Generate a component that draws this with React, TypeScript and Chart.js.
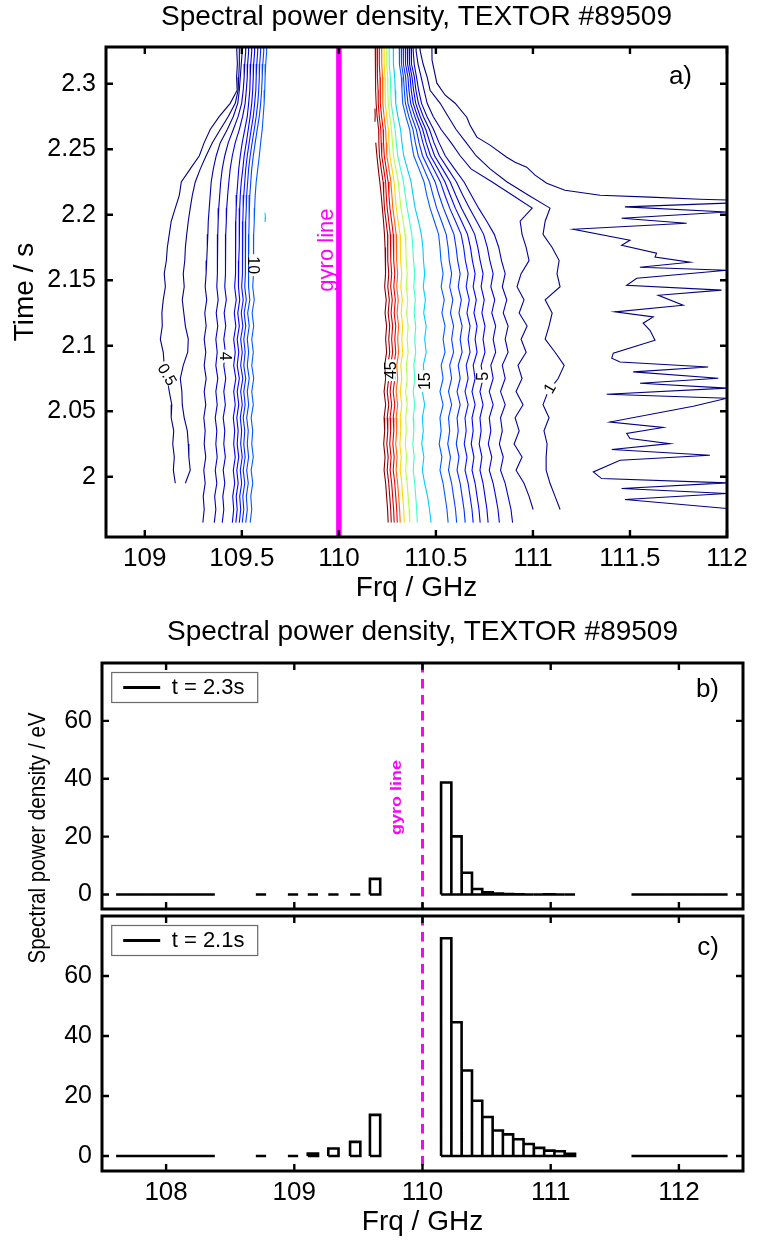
import React, { useEffect, useRef } from "react";
import { Chart, registerables } from "chart.js";

Chart.register(...registerables);

const FONT = "'Liberation Sans', Arial, Helvetica, sans-serif";
Chart.defaults.font.family = FONT;
Chart.defaults.color = "#000";

// ---------------- Panel a: contour map ----------------
const TITLE = "Spectral power density, TEXTOR #89509";
const A_X_TICKS = [109, 109.5, 110, 110.5, 111, 111.5, 112];
const A_Y_TICKS = [2, 2.05, 2.1, 2.15, 2.2, 2.25, 2.3];
const A_X_MIN = 108.8;
const A_X_MAX = 112;
const A_Y_MIN = 1.954;
const A_Y_MAX = 2.328;
const GYRO_FREQ = 110;

const CONTOUR_TIMES = [2.335, 2.325, 2.315, 2.305, 2.295, 2.285, 2.275, 2.265, 2.255, 2.245, 2.235, 2.225, 2.215, 2.205, 2.195, 2.185, 2.175, 2.165, 2.155, 2.145, 2.135, 2.125, 2.115, 2.105, 2.095, 2.085, 2.075, 2.065, 2.055, 2.045, 2.035, 2.025, 2.015, 2.005, 1.995, 1.985, 1.975, 1.965];

const LEFT_LEV05 = [109.475, 109.474, 109.477, 109.473, 109.476, 109.440, 109.384, 109.337, 109.306, 109.281, 109.234, 109.188, 109.178, 109.157, 109.136, 109.126, 109.116, 109.111, 109.100, 109.106, 109.095, 109.088, 109.090, 109.080, 109.095, 109.100, 109.116, 109.126, 109.139, 109.136, 109.149, 109.144, 109.152, 109.147, 109.157, null, null, null];
const LEFT_LEV1 = [109.484, 109.487, 109.487, 109.484, 109.481, 109.466, 109.430, 109.389, 109.348, 109.316, 109.286, 109.260, 109.245, 109.234, 109.224, 109.216, 109.209, 109.206, 109.198, 109.203, 109.193, 109.201, 109.209, 109.224, 109.221, 109.198, 109.183, 109.191, 109.193, 109.203, 109.219, 109.224, 109.227, 109.234, 109.209, null, null, null];
const LEFT_LEV2 = [109.499, 109.502, 109.497, 109.492, 109.487, 109.479, 109.456, 109.425, 109.389, 109.368, 109.353, 109.342, 109.337, 109.332, 109.327, 109.325, 109.322, 109.319, 109.316, 109.311, 109.319, 109.309, 109.316, 109.306, 109.314, 109.306, 109.316, 109.306, 109.314, 109.304, 109.311, 109.306, 109.314, 109.304, 109.311, 109.301, 109.306, 109.299];
const LEFT_LEV3 = [109.517, 109.520, 109.515, 109.512, 109.507, 109.499, 109.481, 109.456, 109.430, 109.412, 109.399, 109.391, 109.386, 109.381, 109.378, 109.376, 109.376, 109.373, 109.373, 109.371, 109.378, 109.368, 109.376, 109.366, 109.373, 109.366, 109.376, 109.366, 109.373, 109.363, 109.371, 109.366, 109.373, 109.363, 109.371, 109.360, 109.366, 109.358];
const LEFT_LEV4 = [109.533, 109.535, 109.530, 109.528, 109.523, 109.517, 109.504, 109.487, 109.466, 109.451, 109.440, 109.433, 109.427, 109.422, 109.420, 109.417, 109.417, 109.415, 109.415, 109.412, 109.420, 109.409, 109.417, 109.407, 109.415, 109.407, 109.417, 109.407, 109.415, 109.404, 109.412, 109.407, 109.415, 109.404, 109.412, 109.402, 109.407, 109.399];
const LEFT_LEV5 = [109.548, 109.551, 109.546, 109.543, 109.541, 109.535, 109.528, 109.515, 109.502, 109.492, 109.484, 109.479, 109.474, 109.471, 109.469, 109.469, 109.469, 109.466, 109.466, 109.463, 109.471, 109.461, 109.469, 109.458, 109.466, 109.458, 109.469, 109.458, 109.466, 109.456, 109.463, 109.458, 109.466, 109.456, 109.463, 109.453, 109.458, 109.451];
const LEFT_LEV6 = [109.564, 109.566, 109.561, 109.559, 109.556, 109.551, 109.543, 109.533, 109.523, 109.512, 109.505, 109.497, 109.492, 109.489, 109.487, 109.487, 109.486, 109.484, 109.484, 109.481, 109.489, 109.479, 109.487, 109.476, 109.484, 109.476, 109.487, 109.476, 109.484, 109.474, 109.481, 109.476, 109.484, 109.474, 109.481, 109.471, 109.476, 109.469];
const LEFT_LEV7 = [109.579, 109.582, 109.577, 109.574, 109.572, 109.566, 109.559, 109.548, 109.538, 109.528, 109.520, 109.515, 109.510, 109.507, 109.505, 109.505, 109.504, 109.502, 109.502, 109.499, 109.507, 109.497, 109.505, 109.494, 109.502, 109.494, 109.505, 109.494, 109.502, 109.492, 109.499, 109.494, 109.502, 109.492, 109.499, 109.489, 109.494, 109.487];
const LEFT_LEV8 = [109.595, 109.597, 109.592, 109.590, 109.587, 109.582, 109.574, 109.564, 109.553, 109.543, 109.535, 109.530, 109.525, 109.523, 109.520, 109.520, 109.519, 109.517, 109.517, 109.515, 109.523, 109.512, 109.520, 109.510, 109.517, 109.510, 109.520, 109.510, 109.517, 109.507, 109.515, 109.510, 109.517, 109.507, 109.515, 109.505, 109.510, 109.502];
const LEFT_LEV9 = [109.610, 109.613, 109.608, 109.605, 109.602, 109.597, 109.590, 109.579, 109.569, 109.559, 109.551, 109.546, 109.541, 109.538, 109.537, 109.536, 109.535, 109.535, 109.535, 109.533, 109.541, 109.530, 109.538, 109.528, 109.535, 109.528, 109.538, 109.528, 109.535, 109.525, 109.533, 109.528, 109.535, 109.525, 109.533, 109.523, 109.528, 109.520];
const LEFT_LEV10 = [109.626, 109.628, 109.623, 109.620, 109.618, 109.615, 109.610, 109.605, 109.597, 109.590, 109.582, 109.574, 109.569, 109.566, 109.564, 109.561, 109.561, 109.560, 109.559, 109.556, 109.564, 109.553, 109.561, 109.551, 109.559, 109.551, 109.561, 109.551, 109.559, 109.548, 109.556, 109.551, 109.559, 109.548, 109.556, 109.546, 109.551, 109.543];

const RIGHT_LEV55 = [null, null, null, null, null, null, null, null, 110.190, 110.196, 110.203, 110.211, 110.218, 110.224, 110.230, 110.235, 110.238, 110.240, 110.241, 110.236, 110.244, 110.238, 110.246, 110.241, 110.246, 110.236, 110.241, 110.233, 110.241, 110.233, 110.236, 110.231, 110.238, 110.233, 110.241, 110.246, 110.251, 110.254];
const RIGHT_LEV50 = [110.187, 110.187, 110.188, 110.191, 110.191, 110.192, 110.197, 110.205, 110.206, 110.209, 110.218, 110.228, 110.231, 110.235, 110.243, 110.251, 110.252, 110.252, 110.257, 110.252, 110.260, 110.254, 110.262, 110.257, 110.262, 110.252, 110.257, 110.249, 110.257, 110.249, 110.252, 110.247, 110.254, 110.249, 110.257, 110.262, 110.267, 110.270];
const RIGHT_LEV45 = [110.197, 110.197, 110.198, 110.201, 110.202, 110.203, 110.208, 110.216, 110.218, 110.221, 110.231, 110.241, 110.244, 110.249, 110.257, 110.265, 110.267, 110.268, 110.272, 110.267, 110.275, 110.269, 110.277, 110.272, 110.277, 110.267, 110.272, 110.264, 110.272, 110.264, 110.267, 110.262, 110.269, 110.264, 110.272, 110.277, 110.282, 110.285];
const RIGHT_LEV40 = [110.208, 110.208, 110.209, 110.212, 110.213, 110.214, 110.220, 110.228, 110.230, 110.234, 110.244, 110.254, 110.258, 110.263, 110.272, 110.280, 110.282, 110.283, 110.288, 110.283, 110.291, 110.285, 110.293, 110.288, 110.293, 110.283, 110.288, 110.280, 110.288, 110.280, 110.283, 110.278, 110.285, 110.280, 110.288, 110.293, 110.298, 110.301];
const RIGHT_LEV35 = [110.220, 110.221, 110.221, 110.225, 110.226, 110.227, 110.233, 110.241, 110.244, 110.247, 110.258, 110.268, 110.273, 110.278, 110.287, 110.295, 110.297, 110.298, 110.303, 110.298, 110.306, 110.300, 110.308, 110.303, 110.308, 110.298, 110.303, 110.295, 110.303, 110.295, 110.298, 110.293, 110.300, 110.295, 110.303, 110.308, 110.313, 110.316];
const RIGHT_LEV30 = [110.233, 110.233, 110.234, 110.238, 110.238, 110.240, 110.247, 110.255, 110.258, 110.263, 110.274, 110.285, 110.290, 110.296, 110.305, 110.315, 110.317, 110.319, 110.324, 110.319, 110.327, 110.321, 110.329, 110.324, 110.329, 110.319, 110.324, 110.316, 110.324, 110.316, 110.319, 110.314, 110.321, 110.316, 110.324, 110.329, 110.334, 110.337];
const RIGHT_LEV25 = [110.246, 110.246, 110.247, 110.251, 110.252, 110.255, 110.262, 110.271, 110.276, 110.281, 110.294, 110.306, 110.313, 110.320, 110.331, 110.341, 110.345, 110.347, 110.352, 110.347, 110.355, 110.349, 110.357, 110.352, 110.357, 110.347, 110.352, 110.344, 110.352, 110.344, 110.347, 110.342, 110.349, 110.344, 110.352, 110.357, 110.362, 110.365];
const RIGHT_LEV20 = [110.259, 110.259, 110.260, 110.265, 110.267, 110.270, 110.279, 110.290, 110.296, 110.303, 110.318, 110.333, 110.342, 110.352, 110.364, 110.376, 110.381, 110.385, 110.391, 110.386, 110.394, 110.388, 110.396, 110.391, 110.396, 110.386, 110.391, 110.383, 110.391, 110.383, 110.386, 110.381, 110.388, 110.383, 110.391, 110.396, 110.401, 110.404];
const RIGHT_LEV15 = [110.280, 110.280, 110.282, 110.288, 110.290, 110.293, 110.304, 110.318, 110.325, 110.334, 110.353, 110.372, 110.382, 110.393, 110.410, 110.425, 110.433, 110.436, 110.442, 110.435, 110.446, 110.437, 110.450, 110.442, 110.450, 110.435, 110.442, 110.430, 110.442, 110.430, 110.435, 110.427, 110.438, 110.430, 110.442, 110.457, 110.467, 110.475];
const RIGHT_LEV10 = [110.311, 110.311, 110.313, 110.322, 110.325, 110.329, 110.345, 110.365, 110.374, 110.386, 110.413, 110.439, 110.453, 110.470, 110.492, 110.514, 110.521, 110.526, 110.537, 110.527, 110.543, 110.531, 110.547, 110.537, 110.547, 110.527, 110.537, 110.521, 110.537, 110.521, 110.527, 110.517, 110.531, 110.521, 110.537, 110.547, 110.557, 110.563];
const RIGHT_LEV9 = [110.321, 110.321, 110.324, 110.333, 110.337, 110.343, 110.360, 110.382, 110.394, 110.409, 110.438, 110.467, 110.485, 110.504, 110.529, 110.553, 110.563, 110.569, 110.581, 110.571, 110.587, 110.575, 110.591, 110.581, 110.591, 110.571, 110.581, 110.565, 110.581, 110.565, 110.571, 110.561, 110.575, 110.565, 110.581, 110.591, 110.601, 110.607];
const RIGHT_LEV8 = [110.331, 110.331, 110.334, 110.344, 110.349, 110.356, 110.375, 110.399, 110.413, 110.431, 110.463, 110.496, 110.516, 110.539, 110.566, 110.593, 110.604, 110.612, 110.625, 110.615, 110.631, 110.619, 110.635, 110.625, 110.635, 110.615, 110.625, 110.609, 110.625, 110.609, 110.615, 110.605, 110.619, 110.609, 110.625, 110.635, 110.645, 110.651];
const RIGHT_LEV7 = [110.342, 110.342, 110.345, 110.356, 110.361, 110.370, 110.391, 110.416, 110.433, 110.453, 110.488, 110.523, 110.546, 110.571, 110.601, 110.630, 110.643, 110.652, 110.666, 110.656, 110.672, 110.660, 110.676, 110.666, 110.676, 110.656, 110.666, 110.650, 110.666, 110.650, 110.656, 110.646, 110.660, 110.650, 110.666, 110.676, 110.686, 110.692];
const RIGHT_LEV6 = [110.352, 110.352, 110.356, 110.367, 110.373, 110.383, 110.405, 110.432, 110.450, 110.472, 110.510, 110.547, 110.573, 110.600, 110.632, 110.663, 110.678, 110.688, 110.702, 110.692, 110.708, 110.696, 110.712, 110.702, 110.712, 110.692, 110.702, 110.686, 110.702, 110.686, 110.692, 110.682, 110.696, 110.686, 110.702, 110.712, 110.722, 110.728];
const RIGHT_LEV5 = [110.362, 110.362, 110.366, 110.377, 110.385, 110.396, 110.419, 110.448, 110.469, 110.493, 110.534, 110.574, 110.602, 110.632, 110.667, 110.700, 110.716, 110.728, 110.743, 110.733, 110.749, 110.737, 110.753, 110.743, 110.753, 110.733, 110.743, 110.727, 110.743, 110.727, 110.733, 110.723, 110.737, 110.727, 110.743, 110.753, 110.763, 110.769];
const RIGHT_LEV4 = [110.372, 110.372, 110.376, 110.389, 110.397, 110.410, 110.435, 110.467, 110.490, 110.518, 110.562, 110.606, 110.638, 110.673, 110.710, 110.746, 110.765, 110.778, 110.795, 110.783, 110.803, 110.788, 110.808, 110.795, 110.808, 110.783, 110.795, 110.775, 110.795, 110.775, 110.783, 110.770, 110.788, 110.775, 110.795, 110.808, 110.820, 110.827];
const RIGHT_LEV3 = [110.383, 110.383, 110.388, 110.400, 110.411, 110.426, 110.454, 110.488, 110.516, 110.548, 110.596, 110.645, 110.682, 110.720, 110.762, 110.801, 110.824, 110.838, 110.857, 110.842, 110.865, 110.847, 110.872, 110.857, 110.872, 110.842, 110.857, 110.833, 110.857, 110.833, 110.842, 110.827, 110.847, 110.833, 110.857, 110.872, 110.887, 110.895];
const RIGHT_LEV2 = [110.398, 110.398, 110.408, 110.424, 110.439, 110.455, 110.486, 110.527, 110.578, 110.625, 110.681, 110.790, 110.893, 110.996, 110.934, 110.944, 110.965, 110.980, 110.939, 110.918, 110.954, 110.929, 110.970, 110.939, 110.965, 110.923, 110.944, 110.913, 110.949, 110.908, 110.929, 110.903, 110.944, 110.913, 110.954, 110.980, 111.001, null];
const RIGHT_LEV1 = [110.414, 110.419, 110.434, 110.455, 110.470, 110.522, 110.563, 110.604, 110.656, 110.707, 110.779, 110.867, 110.975, 111.088, 111.063, 111.052, 111.099, 111.135, 111.124, 111.140, 111.063, 111.099, 111.083, 111.063, 111.114, 111.161, 111.130, 111.078, 111.052, 111.083, 111.057, 111.073, 111.068, 111.068, 111.088, 111.114, 111.140, null];

// 0.5 contour on the high-frequency side: upper sweep, then the noisy part
const SWEEP_FREQ = [110.479, 110.480, 110.505, 110.548, 110.599, 110.659, 110.676, 110.711, 110.779, 110.865, 110.908, 110.968, 111.011, 111.071, 111.165, 111.346, 111.603, 111.861, 112.015];
const SWEEP_TIME = [2.333, 2.318, 2.3004, 2.2912, 2.2851, 2.2744, 2.2683, 2.2592, 2.2531, 2.2439, 2.2401, 2.2363, 2.2302, 2.224, 2.2187, 2.2149, 2.2134, 2.2118, 2.2111];
const NOISE_FREQ = [112.0, 111.474, 112.0, 111.457, 111.792, 111.208, 111.5, 111.457, 111.637, 111.629, 111.809, 111.551, 112.0, 111.535, 111.483, 111.972, 111.646, 111.774, 111.423, 111.62, 111.568, 111.603, 111.629, 111.414, 111.406, 111.449, 111.903, 111.517, 111.955, 111.552, 112.0, 111.38, 112.0, 111.826, 111.397, 111.671, 111.483, 111.5, 111.706, 111.406, 111.912, 111.449, 111.311, 111.354, 112.0, 111.457, 112.0, 111.474, 112.0];
const NOISE_TIME = [2.2088, 2.206, 2.2021, 2.1973, 2.1935, 2.1889, 2.1805, 2.1767, 2.1706, 2.1676, 2.1637, 2.1599, 2.1576, 2.1515, 2.1462, 2.1424, 2.1385, 2.1309, 2.1258, 2.122, 2.1172, 2.1118, 2.1042, 2.0943, 2.0905, 2.0876, 2.0838, 2.08, 2.0752, 2.0714, 2.0676, 2.063, 2.0599, 2.0538, 2.0418, 2.0376, 2.033, 2.0292, 2.0253, 2.0208, 2.0164, 2.0126, 2.0037, 1.9986, 1.9953, 1.991, 1.9872, 1.9826, 1.9757];
const ISLAND15_FREQ = [109.619, 109.622, 109.62];
const ISLAND15_TIME = [2.2015, 2.198, 2.1945];
const ISLAND55_FREQ = [110.186, 110.187, 110.186];
const ISLAND55_TIME = [2.281, 2.276, 2.271];

const CLABEL_TEXT = ["0.5", "4", "10", "45", "15", "5", "1"];
const CLABEL_FREQ = [109.116, 109.415, 109.56, 110.267, 110.442, 110.743, 111.085];
const CLABEL_TIME = [2.078, 2.092, 2.1615, 2.0813, 2.0729, 2.0767, 2.0676];
const CLABEL_ROT = [60, 90, 90, -90, -90, -90, -60];

const LEVEL_COLOR: Record<string, string> = {
  "0.5": "#000080", "1": "#00008b", "2": "#0000a2", "3": "#0000b9", "4": "#0000d0",
  "5": "#0000e7", "6": "#0000fe", "7": "#0015ff", "8": "#002cff", "9": "#0043ff",
  "10": "#005aff", "15": "#00cdff", "20": "#40ffbf", "25": "#b3ff4d", "30": "#ffd900",
  "35": "#ff6600", "40": "#f20000", "45": "#d00000", "50": "#a80000", "55": "#800000",
};

const CONTOURS: [number, (number | null)[]][] = [
  [0.5, LEFT_LEV05], [1, LEFT_LEV1], [2, LEFT_LEV2], [3, LEFT_LEV3], [4, LEFT_LEV4],
  [5, LEFT_LEV5], [6, LEFT_LEV6], [7, LEFT_LEV7], [8, LEFT_LEV8], [9, LEFT_LEV9], [10, LEFT_LEV10],
  [55, RIGHT_LEV55], [50, RIGHT_LEV50], [45, RIGHT_LEV45], [40, RIGHT_LEV40], [35, RIGHT_LEV35],
  [30, RIGHT_LEV30], [25, RIGHT_LEV25], [20, RIGHT_LEV20], [15, RIGHT_LEV15], [10, RIGHT_LEV10],
  [9, RIGHT_LEV9], [8, RIGHT_LEV8], [7, RIGHT_LEV7], [6, RIGHT_LEV6], [5, RIGHT_LEV5],
  [4, RIGHT_LEV4], [3, RIGHT_LEV3], [2, RIGHT_LEV2], [1, RIGHT_LEV1],
];

// ---------------- Panels b and c: spectra ----------------
const BC_X_TICKS = [108, 109, 110, 111, 112];
const BC_Y_TICKS = [0, 20, 40, 60];
const BC_X_MIN = 107.5;
const BC_X_MAX = 112.5;
const BC_Y_MIN = -5;
const BC_Y_MAX = 80;
const CHANNEL_WIDTH = 0.08;
const CHANNEL_FREQ = [107.65, 107.73, 107.8, 107.88, 107.96, 108.03, 108.11, 108.19, 108.26, 108.34, 108.74, 108.99, 109.145, 109.305, 109.475, 109.63, 110.185, 110.265, 110.346, 110.426, 110.507, 110.587, 110.667, 110.748, 110.828, 110.909, 110.989, 111.069, 111.15, 111.67, 111.75, 111.82, 111.9, 111.98, 112.05, 112.13, 112.21, 112.28, 112.34];
const SPD_T23 = [0, 0, 0, 0, 0, 0, 0, 0, 0, 0, 0, 0, 0, 0, 0, 5.4, 38.7, 20.1, 7.5, 1.9, 0.8, 0.3, 0.2, 0.1, 0, 0, 0.1, 0, 0, 0, 0, 0, 0, 0, 0, 0, 0, 0, 0];
const SPD_T21 = [0, 0, 0, 0, 0, 0, 0, 0, 0, 0, 0, 0, 0.8, 2.5, 4.7, 13.7, 72.6, 44.6, 28.5, 18.4, 13.0, 8.5, 7.2, 5.6, 4.0, 2.7, 1.8, 1.6, 0.7, 0, 0, 0, 0, 0, 0, 0, 0, 0, 0];
const LABEL_B = "t = 2.3s";
const LABEL_C = "t = 2.1s";

// ---------------- helpers ----------------
function channelOutline(freqs: number[], vals: number[], w: number) {
  const pts: { x: number; y: number | null }[] = [];
  for (let i = 0; i < freqs.length; i++) {
    const l = freqs[i] - w / 2;
    const r = freqs[i] + w / 2;
    const v = vals[i];
    pts.push({ x: l, y: 0 }, { x: l, y: v }, { x: r, y: v }, { x: r, y: 0 }, { x: l, y: 0 }, { x: freqs[i], y: null });
  }
  return pts;
}

function framePlugin(tickLen: number) {
  return {
    id: "frameTicks",
    afterDatasetsDraw(chart: any) {
      const { ctx, chartArea: a } = chart;
      const xs = chart.scales.x;
      const ys = chart.scales.y;
      ctx.save();
      ctx.strokeStyle = "#000";
      ctx.lineWidth = 2.4;
      ctx.beginPath();
      xs.ticks.forEach((t: any) => {
        const p = xs.getPixelForValue(t.value);
        ctx.moveTo(p, a.bottom);
        ctx.lineTo(p, a.bottom - tickLen);
        ctx.moveTo(p, a.top);
        ctx.lineTo(p, a.top + tickLen);
      });
      ys.ticks.forEach((t: any) => {
        const p = ys.getPixelForValue(t.value);
        ctx.moveTo(a.left, p);
        ctx.lineTo(a.left + tickLen, p);
        ctx.moveTo(a.right, p);
        ctx.lineTo(a.right - tickLen, p);
      });
      ctx.stroke();
      ctx.lineWidth = 3;
      ctx.strokeRect(a.left, a.top, a.right - a.left, a.bottom - a.top);
      ctx.restore();
    },
  };
}

function axisX(min: number, max: number, ticks: number[], height: number, showLabels: boolean, title?: string, titleBottom = 0) {
  return {
    type: "linear" as const,
    min,
    max,
    afterBuildTicks: (s: any) => {
      s.ticks = ticks.map((v) => ({ value: v }));
    },
    afterFit: (s: any) => {
      s.height = height;
    },
    grid: { display: false, drawTicks: false },
    border: { display: false },
    ticks: {
      display: showLabels,
      autoSkip: false,
      maxRotation: 0,
      padding: 6.4,
      font: { size: 26, family: FONT },
      color: "#000",
      callback: (v: any) => String(v),
    },
    title: title
      ? { display: true, text: title, font: { size: 28, family: FONT }, color: "#000", padding: { top: 0, bottom: titleBottom } }
      : { display: false },
  };
}

function axisY(min: number, max: number, ticks: number[], width: number, title?: string) {
  return {
    type: "linear" as const,
    min,
    max,
    afterBuildTicks: (s: any) => {
      s.ticks = ticks.map((v) => ({ value: v }));
    },
    afterFit: (s: any) => {
      s.width = width;
    },
    grid: { display: false, drawTicks: false },
    border: { display: false },
    ticks: {
      autoSkip: false,
      padding: 10,
      font: { size: 25, family: FONT },
      color: "#000",
      callback: (v: any) => String(v),
    },
    title: title
      ? { display: true, text: title, font: { size: 28, family: FONT }, color: "#000", padding: { top: 8, bottom: 0 } }
      : { display: false },
  };
}

const baseOptions = {
  animation: false as const,
  responsive: false,
  devicePixelRatio: 1,
  events: [] as any[],
};

function makeChartA(canvas: HTMLCanvasElement) {
  const datasets: any[] = CONTOURS.map(([lev, freqs]) => ({
    data: CONTOUR_TIMES.map((t, i) => ({ x: freqs[i], y: t })).filter((p) => p.x !== null),
    showLine: true,
    borderColor: LEVEL_COLOR[String(lev)],
    borderWidth: 1.1,
    pointRadius: 0,
    tension: 0,
  }));
  const extra = (fr: number[], tm: number[], lev: number) => ({
    data: fr.map((f, i) => ({ x: f, y: tm[i] })),
    showLine: true,
    borderColor: LEVEL_COLOR[String(lev)],
    borderWidth: 1.1,
    pointRadius: 0,
    tension: 0,
  });
  datasets.push(extra(SWEEP_FREQ, SWEEP_TIME, 0.5));
  datasets.push(extra(NOISE_FREQ, NOISE_TIME, 0.5));
  datasets.push(extra(ISLAND15_FREQ, ISLAND15_TIME, 15));
  datasets.push(extra(ISLAND55_FREQ, ISLAND55_TIME, 55));
  datasets.push({
    data: [{ x: GYRO_FREQ, y: A_Y_MAX }, { x: GYRO_FREQ, y: A_Y_MIN }],
    showLine: true,
    borderColor: "#ff00ff",
    borderWidth: 5.5,
    pointRadius: 0,
  });

  const extrasA = {
    id: "extrasA",
    afterDatasetsDraw(chart: any) {
      const { ctx, chartArea: a } = chart;
      const x = chart.scales.x;
      const y = chart.scales.y;
      ctx.save();
      ctx.font = `16px ${FONT}`;
      ctx.textAlign = "center";
      ctx.textBaseline = "middle";
      CLABEL_TEXT.forEach((txt, i) => {
        const px = x.getPixelForValue(CLABEL_FREQ[i]);
        const py = y.getPixelForValue(CLABEL_TIME[i]);
        ctx.save();
        ctx.translate(px, py);
        ctx.rotate((CLABEL_ROT[i] * Math.PI) / 180);
        const w = ctx.measureText(txt).width;
        ctx.fillStyle = "#fff";
        ctx.fillRect(-w / 2 - 2, -4.5, w + 4, 9);
        ctx.fillStyle = "#000";
        ctx.fillText(txt, 0, 1);
        ctx.restore();
      });
      // gyro line text
      ctx.save();
      ctx.translate(x.getPixelForValue(GYRO_FREQ) - 11.5, y.getPixelForValue(2.173));
      ctx.rotate(-Math.PI / 2);
      ctx.font = `22px ${FONT}`;
      ctx.fillStyle = "#ff00ff";
      ctx.fillText("gyro line", 0, 0);
      ctx.restore();
      // panel letter
      ctx.font = `26px ${FONT}`;
      ctx.textAlign = "right";
      ctx.fillStyle = "#000";
      ctx.fillText("a)", a.right - 35, a.top + 30);
      ctx.restore();
    },
  };

  return new Chart(canvas, {
    type: "scatter",
    data: { datasets },
    options: {
      ...baseOptions,
      layout: { padding: { left: 0, right: 30, top: 0, bottom: 0 } },
      plugins: {
        legend: { display: false },
        tooltip: { enabled: false },
        title: {
          display: true,
          fullSize: false,
          text: TITLE,
          color: "#000",
          font: { size: 28, family: FONT, weight: "normal" },
          padding: { top: 0, bottom: 13.4 },
        },
      },
      scales: {
        x: axisX(A_X_MIN, A_X_MAX, A_X_TICKS, 68, true, "Frq / GHz", 0),
        y: axisY(A_Y_MIN, A_Y_MAX, A_Y_TICKS, 106, "Time / s"),
      },
    } as any,
    plugins: [framePlugin(7), extrasA] as any,
  });
}

function legendAndLetter(label: string, letter: string, letterDy: number, gyroText: boolean, sharedTitle: boolean) {
  return {
    id: "extrasBC",
    afterDatasetsDraw(chart: any) {
      const { ctx, chartArea: a } = chart;
      const x = chart.scales.x;
      const y = chart.scales.y;
      ctx.save();
      const bx = a.left + 9.7;
      const by = a.top + 9.5;
      ctx.fillStyle = "#fff";
      ctx.fillRect(bx, by, 146, 30);
      ctx.strokeStyle = "#6a6a6a";
      ctx.lineWidth = 1.2;
      ctx.strokeRect(bx, by, 146, 30);
      ctx.strokeStyle = "#000";
      ctx.lineWidth = 3;
      ctx.beginPath();
      ctx.moveTo(bx + 11.5, by + 15);
      ctx.lineTo(bx + 48.5, by + 15);
      ctx.stroke();
      ctx.fillStyle = "#000";
      ctx.font = `22px ${FONT}`;
      ctx.textAlign = "left";
      ctx.textBaseline = "middle";
      ctx.fillText(label, bx + 60, by + 15.5);
      ctx.font = `26px ${FONT}`;
      ctx.textAlign = "right";
      ctx.fillText(letter, a.right - 24, a.top + letterDy);
      if (gyroText) {
        ctx.save();
        ctx.translate(x.getPixelForValue(GYRO_FREQ) - 25, y.getPixelForValue(33.5));
        ctx.rotate(-Math.PI / 2);
        ctx.scale(1, 0.78);
        ctx.font = `bold 18px ${FONT}`;
        ctx.textAlign = "center";
        ctx.fillStyle = "#ff00ff";
        ctx.fillText("gyro line", 0, 0);
        ctx.restore();
      }
      if (sharedTitle) {
        ctx.save();
        ctx.translate(38, 233);
        ctx.rotate(-Math.PI / 2);
        ctx.scale(0.86, 1);
        ctx.font = `24px ${FONT}`;
        ctx.textAlign = "center";
        ctx.fillStyle = "#000";
        ctx.fillText("Spectral power density / eV", 0, 0);
        ctx.restore();
      }
      ctx.restore();
    },
  };
}

function spectrumDatasets(vals: number[], label: string) {
  return [
    {
      label,
      data: channelOutline(CHANNEL_FREQ, vals, CHANNEL_WIDTH),
      showLine: true,
      spanGaps: false,
      borderColor: "#000",
      borderWidth: 2.6,
      borderJoinStyle: "miter",
      borderCapStyle: "butt",
      pointRadius: 0,
      tension: 0,
    },
    {
      data: [{ x: GYRO_FREQ, y: BC_Y_MAX }, { x: GYRO_FREQ, y: BC_Y_MIN }],
      showLine: true,
      borderColor: "#ff00ff",
      borderWidth: 3,
      borderDash: [9.5, 6.5],
      pointRadius: 0,
    },
  ];
}

function makeChartB(canvas: HTMLCanvasElement) {
  return new Chart(canvas, {
    type: "scatter",
    data: { datasets: spectrumDatasets(SPD_T23, LABEL_B) as any },
    options: {
      ...baseOptions,
      layout: { padding: { left: 0, right: 14, top: 0, bottom: 0 } },
      plugins: {
        legend: { display: false },
        tooltip: { enabled: false },
        title: {
          display: true,
          fullSize: false,
          text: TITLE,
          color: "#000",
          font: { size: 28, family: FONT, weight: "normal" },
          padding: { top: 10.2, bottom: 14.2 },
        },
      },
      scales: {
        x: axisX(BC_X_MIN, BC_X_MAX, BC_X_TICKS, 18, false),
        y: axisY(BC_Y_MIN, BC_Y_MAX, BC_Y_TICKS, 102),
      },
    } as any,
    plugins: [framePlugin(7), legendAndLetter(LABEL_B, "b)", 27, true, false)] as any,
  });
}

function makeChartC(canvas: HTMLCanvasElement) {
  return new Chart(canvas, {
    type: "scatter",
    data: { datasets: spectrumDatasets(SPD_T21, LABEL_C) as any },
    options: {
      ...baseOptions,
      layout: { padding: { left: 0, right: 14, top: 311, bottom: 0 } },
      plugins: {
        legend: { display: false },
        tooltip: { enabled: false },
        title: { display: false },
      },
      scales: {
        x: axisX(BC_X_MIN, BC_X_MAX, BC_X_TICKS, 71, true, "Frq / GHz", 3.2),
        y: axisY(BC_Y_MIN, BC_Y_MAX, BC_Y_TICKS, 102),
      },
    } as any,
    plugins: [framePlugin(7), legendAndLetter(LABEL_C, "c)", 32, false, true)] as any,
  });
}

export default function App() {
  const aRef = useRef<HTMLCanvasElement>(null);
  const bRef = useRef<HTMLCanvasElement>(null);
  const cRef = useRef<HTMLCanvasElement>(null);

  useEffect(() => {
    const charts = [makeChartA(aRef.current!), makeChartB(bRef.current!), makeChartC(cRef.current!)];
    return () => charts.forEach((c) => c.destroy());
  }, []);

  return (
    <div style={{ position: "absolute", left: 0, top: 0, width: 757, height: 1242, background: "#fff", overflow: "hidden" }}>
      <canvas ref={aRef} width={757} height={605} style={{ position: "absolute", left: 0, top: 0 }} />
      <canvas ref={bRef} width={757} height={329} style={{ position: "absolute", left: 0, top: 605 }} />
      <canvas ref={cRef} width={757} height={637} style={{ position: "absolute", left: 0, top: 605 }} />
    </div>
  );
}
